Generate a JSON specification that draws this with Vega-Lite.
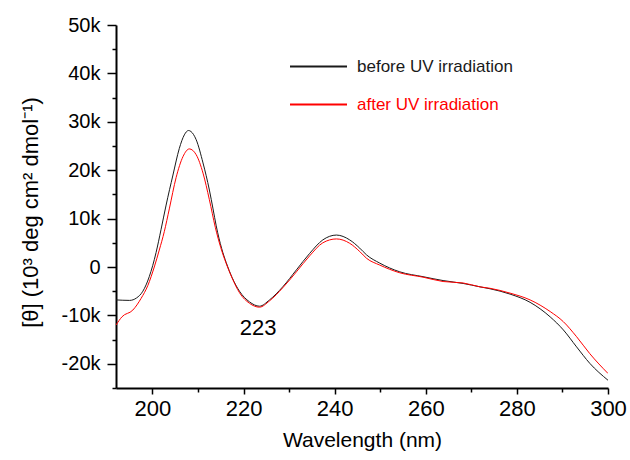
{
  "$schema": "https://vega.github.io/schema/vega-lite/v6.json",
  "width": 492,
  "height": 363,
  "autosize": {"type": "none"},
  "padding": {"left": 116, "top": 25, "right": 22, "bottom": 72},
  "background": "white",
  "config": {
    "view": {"stroke": null},
    "font": "Liberation Sans"
  },
  "datasets": {
    "cd": [
      {"wl": 192, "theta": -6800, "series": "before UV irradiation"},
      {"wl": 195, "theta": -6900, "series": "before UV irradiation"},
      {"wl": 196.5, "theta": -6400, "series": "before UV irradiation"},
      {"wl": 197.9, "theta": -5000, "series": "before UV irradiation"},
      {"wl": 199.3, "theta": -2000, "series": "before UV irradiation"},
      {"wl": 200.8, "theta": 3000, "series": "before UV irradiation"},
      {"wl": 201.9, "theta": 7800, "series": "before UV irradiation"},
      {"wl": 203.0, "theta": 12800, "series": "before UV irradiation"},
      {"wl": 204.5, "theta": 19000, "series": "before UV irradiation"},
      {"wl": 205.9, "theta": 24500, "series": "before UV irradiation"},
      {"wl": 207.0, "theta": 27300, "series": "before UV irradiation"},
      {"wl": 207.9, "theta": 28200, "series": "before UV irradiation"},
      {"wl": 209.0, "theta": 27400, "series": "before UV irradiation"},
      {"wl": 209.6, "theta": 26300, "series": "before UV irradiation"},
      {"wl": 211.1, "theta": 21500, "series": "before UV irradiation"},
      {"wl": 212.5, "theta": 15900, "series": "before UV irradiation"},
      {"wl": 213.3, "theta": 12000, "series": "before UV irradiation"},
      {"wl": 214.0, "theta": 8500, "series": "before UV irradiation"},
      {"wl": 215.2, "theta": 3800, "series": "before UV irradiation"},
      {"wl": 216.2, "theta": 900, "series": "before UV irradiation"},
      {"wl": 217.5, "theta": -2200, "series": "before UV irradiation"},
      {"wl": 219.1, "theta": -5000, "series": "before UV irradiation"},
      {"wl": 221.3, "theta": -7200, "series": "before UV irradiation"},
      {"wl": 223.5, "theta": -8100, "series": "before UV irradiation"},
      {"wl": 225.7, "theta": -6800, "series": "before UV irradiation"},
      {"wl": 228.6, "theta": -4100, "series": "before UV irradiation"},
      {"wl": 231.6, "theta": -600, "series": "before UV irradiation"},
      {"wl": 234.5, "theta": 2800, "series": "before UV irradiation"},
      {"wl": 237.4, "theta": 5600, "series": "before UV irradiation"},
      {"wl": 240.4, "theta": 6600, "series": "before UV irradiation"},
      {"wl": 243.3, "theta": 5600, "series": "before UV irradiation"},
      {"wl": 245.5, "theta": 3900, "series": "before UV irradiation"},
      {"wl": 247.0, "theta": 2500, "series": "before UV irradiation"},
      {"wl": 249.9, "theta": 800, "series": "before UV irradiation"},
      {"wl": 254.3, "theta": -1000, "series": "before UV irradiation"},
      {"wl": 259.4, "theta": -2000, "series": "before UV irradiation"},
      {"wl": 263.8, "theta": -2800, "series": "before UV irradiation"},
      {"wl": 268.2, "theta": -3400, "series": "before UV irradiation"},
      {"wl": 271.9, "theta": -4100, "series": "before UV irradiation"},
      {"wl": 274.1, "theta": -4500, "series": "before UV irradiation"},
      {"wl": 278.5, "theta": -5600, "series": "before UV irradiation"},
      {"wl": 282.9, "theta": -7300, "series": "before UV irradiation"},
      {"wl": 287.3, "theta": -10300, "series": "before UV irradiation"},
      {"wl": 290.2, "theta": -13000, "series": "before UV irradiation"},
      {"wl": 293.1, "theta": -16500, "series": "before UV irradiation"},
      {"wl": 296.0, "theta": -19900, "series": "before UV irradiation"},
      {"wl": 300, "theta": -23400, "series": "before UV irradiation"},
      {"wl": 192, "theta": -12000, "series": "after UV irradiation"},
      {"wl": 193.3, "theta": -10300, "series": "after UV irradiation"},
      {"wl": 195.7, "theta": -8900, "series": "after UV irradiation"},
      {"wl": 197.5, "theta": -6500, "series": "after UV irradiation"},
      {"wl": 199.0, "theta": -3800, "series": "after UV irradiation"},
      {"wl": 200.4, "theta": 0, "series": "after UV irradiation"},
      {"wl": 201.5, "theta": 3500, "series": "after UV irradiation"},
      {"wl": 202.6, "theta": 7300, "series": "after UV irradiation"},
      {"wl": 203.7, "theta": 12000, "series": "after UV irradiation"},
      {"wl": 205.2, "theta": 18500, "series": "after UV irradiation"},
      {"wl": 206.7, "theta": 22800, "series": "after UV irradiation"},
      {"wl": 208.1, "theta": 24400, "series": "after UV irradiation"},
      {"wl": 209.6, "theta": 23200, "series": "after UV irradiation"},
      {"wl": 211.1, "theta": 19400, "series": "after UV irradiation"},
      {"wl": 212.5, "theta": 13900, "series": "after UV irradiation"},
      {"wl": 213.8, "theta": 8200, "series": "after UV irradiation"},
      {"wl": 215.0, "theta": 4000, "series": "after UV irradiation"},
      {"wl": 216.2, "theta": 700, "series": "after UV irradiation"},
      {"wl": 217.5, "theta": -2300, "series": "after UV irradiation"},
      {"wl": 219.1, "theta": -5300, "series": "after UV irradiation"},
      {"wl": 221.3, "theta": -7500, "series": "after UV irradiation"},
      {"wl": 223.5, "theta": -8300, "series": "after UV irradiation"},
      {"wl": 225.7, "theta": -7000, "series": "after UV irradiation"},
      {"wl": 228.6, "theta": -4300, "series": "after UV irradiation"},
      {"wl": 231.6, "theta": -1000, "series": "after UV irradiation"},
      {"wl": 234.5, "theta": 2300, "series": "after UV irradiation"},
      {"wl": 237.4, "theta": 5000, "series": "after UV irradiation"},
      {"wl": 240.4, "theta": 5800, "series": "after UV irradiation"},
      {"wl": 243.3, "theta": 4900, "series": "after UV irradiation"},
      {"wl": 245.5, "theta": 3200, "series": "after UV irradiation"},
      {"wl": 247.0, "theta": 1800, "series": "after UV irradiation"},
      {"wl": 249.9, "theta": 400, "series": "after UV irradiation"},
      {"wl": 254.3, "theta": -1200, "series": "after UV irradiation"},
      {"wl": 259.4, "theta": -2100, "series": "after UV irradiation"},
      {"wl": 263.8, "theta": -3000, "series": "after UV irradiation"},
      {"wl": 268.2, "theta": -3300, "series": "after UV irradiation"},
      {"wl": 271.9, "theta": -4100, "series": "after UV irradiation"},
      {"wl": 274.1, "theta": -4400, "series": "after UV irradiation"},
      {"wl": 278.5, "theta": -5400, "series": "after UV irradiation"},
      {"wl": 282.9, "theta": -6800, "series": "after UV irradiation"},
      {"wl": 287.3, "theta": -9200, "series": "after UV irradiation"},
      {"wl": 290.2, "theta": -11300, "series": "after UV irradiation"},
      {"wl": 293.1, "theta": -14400, "series": "after UV irradiation"},
      {"wl": 296.0, "theta": -17900, "series": "after UV irradiation"},
      {"wl": 300, "theta": -22000, "series": "after UV irradiation"}
    ],
    "note": [
      {"wl": 223.2, "theta": -12600, "label": "223"}
    ]
  },
  "resolve": {"axis": {"x": "independent", "y": "independent"}},
  "layer": [
    {
      "data": {"name": "cd"},
      "mark": {"type": "line", "strokeWidth": 1, "interpolate": "monotone", "clip": true},
      "encoding": {
        "x": {
          "field": "wl", "type": "quantitative",
          "scale": {"domain": [192, 300], "nice": false, "zero": false},
          "axis": {
            "orient": "bottom",
            "title": "Wavelength (nm)",
            "values": [200, 220, 240, 260, 280, 300],
            "grid": false,
            "domainColor": "#000000", "domainWidth": 2,
            "tickColor": "#000000", "tickWidth": 1.5, "tickSize": 6,
            "labelFontSize": 22, "labelColor": "#000000", "labelPadding": 4,
            "labelFlush": false,
            "titleFontSize": 21, "titleFontWeight": "normal", "titleColor": "#000000",
            "titleX": 246, "titleY": 52, "titleAnchor": null, "titleAlign": "center", "titleBaseline": "middle"
          }
        },
        "y": {
          "field": "theta", "type": "quantitative",
          "scale": {"domain": [-25000, 50000], "nice": false, "zero": false},
          "axis": {
            "orient": "left",
            "title": "[θ] (10³ deg cm² dmol⁻¹)",
            "values": [-20000, -10000, 0, 10000, 20000, 30000, 40000, 50000],
            "labelExpr": "datum.value == 0 ? '0' : (datum.value / 1000) + 'k'",
            "grid": false,
            "domainColor": "#000000", "domainWidth": 2,
            "tickColor": "#000000", "tickWidth": 1.5, "tickSize": 9,
            "labelFontSize": 20, "labelColor": "#000000", "labelPadding": 7,
            "labelFlush": false,
            "titleFontSize": 22, "titleFontWeight": "normal", "titleColor": "#000000",
            "titleX": -86, "titleY": 187, "titleAngle": -90, "titleAnchor": null, "titleAlign": "center", "titleBaseline": "middle"
          }
        },
        "color": {
          "field": "series", "type": "nominal",
          "scale": {"domain": ["before UV irradiation", "after UV irradiation"], "range": ["#1a1a1a", "#ff0000"]},
          "legend": {
            "title": null,
            "orient": "none",
            "legendX": 173,
            "legendY": 12,
            "symbolType": "stroke",
            "symbolSize": 3249,
            "symbolStrokeWidth": 2,
            "labelFontSize": 17,
            "labelOffset": 9,
            "rowPadding": -12,
            "encode": {
              "labels": {
                "update": {
                  "fill": {"signal": "datum.label === 'after UV irradiation' ? '#ff0000' : '#1a1a1a'"}
                }
              }
            }
          }
        },
        "detail": {"field": "series"}
      }
    },
    {
      "data": {"name": "note"},
      "mark": {"type": "text", "fontSize": 22, "color": "#000000", "align": "center", "baseline": "middle"},
      "encoding": {
        "x": {"field": "wl", "type": "quantitative", "axis": null},
        "y": {"field": "theta", "type": "quantitative", "axis": null},
        "text": {"field": "label"}
      }
    },
    {
      "data": {"name": "cd"},
      "mark": {"type": "line", "strokeOpacity": 0},
      "encoding": {
        "x": {
          "field": "wl", "type": "quantitative",
          "axis": {
            "orient": "bottom", "title": null, "labels": false, "domain": false, "grid": false,
            "values": [210, 230, 250, 270, 290],
            "tickColor": "#000000", "tickWidth": 1.5, "tickSize": 4
          }
        },
        "y": {
          "field": "theta", "type": "quantitative",
          "axis": {
            "orient": "left", "title": null, "labels": false, "domain": false, "grid": false,
            "values": [-25000, -15000, -5000, 5000, 15000, 25000, 35000, 45000],
            "tickColor": "#000000", "tickWidth": 1.5, "tickSize": 4
          }
        }
      }
    }
  ]
}
